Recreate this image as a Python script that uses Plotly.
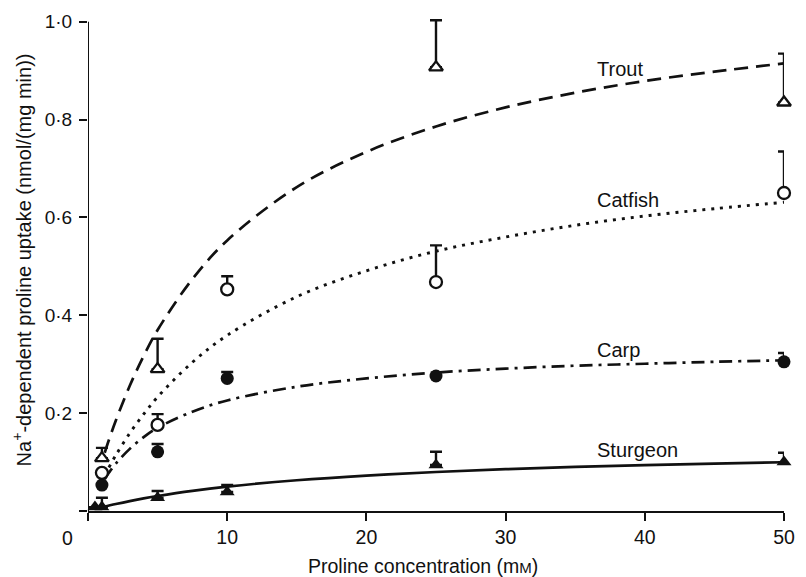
import plotly.graph_objects as go

# Measured uptake (mean) and upper error (s.e.m.) per species
trout_conc = [1, 5, 25, 50]
trout_uptake = [0.108, 0.29, 0.907, 0.835]
trout_err = [0.021, 0.062, 0.096, 0.100]

catfish_conc = [1, 5, 10, 25, 50]
catfish_uptake = [0.078, 0.176, 0.453, 0.468, 0.650]
catfish_err = [None, 0.022, 0.027, 0.075, 0.085]

carp_conc = [1, 5, 10, 25, 50]
carp_uptake = [0.053, 0.121, 0.271, 0.276, 0.305]
carp_err = [None, 0.016, 0.013, None, 0.018]

sturgeon_conc = [0.5, 1, 5, 10, 25, 50]
sturgeon_uptake = [0.008, 0.008, 0.027, 0.039, 0.094, 0.100]
sturgeon_err = [None, 0.019, 0.014, 0.014, 0.027, 0.019]

# Fitted saturation curves
fit_conc = [1.2, 1.5, 2, 3, 4, 5, 7.5, 10, 15, 20, 25, 30, 35, 40, 45, 50]
trout_fit = [0.119, 0.145, 0.185, 0.256, 0.317, 0.370, 0.474, 0.553, 0.662,
             0.734, 0.786, 0.825, 0.855, 0.879, 0.898, 0.915]
catfish_fit = [None, 0.089, 0.114, 0.159, 0.198, 0.233, 0.304, 0.359, 0.438,
               0.491, 0.531, 0.560, 0.584, 0.603, 0.618, 0.631]
carp_fit = [0.065, 0.078, 0.097, 0.127, 0.151, 0.170, 0.203, 0.226, 0.254,
            0.271, 0.283, 0.291, 0.297, 0.301, 0.305, 0.308]
sturgeon_fit_conc = [1, 2, 3, 4, 5, 7.5, 10, 15, 20, 25, 30, 35, 40, 45, 50]
sturgeon_fit = [0.0075, 0.0142, 0.0203, 0.0257, 0.0306, 0.0412, 0.0498, 0.0629,
                0.0725, 0.0797, 0.0854, 0.0900, 0.0938, 0.0970, 0.0997]

species_labels = ["Trout", "Catfish", "Carp", "Sturgeon"]
label_pos = [(36.45, 0.904), (36.45, 0.635), (36.45, 0.329), (36.45, 0.124)]

x_ticks = [0, 10, 20, 30, 40, 50]
x_ticktext = ["", "10", "20", "30", "40", "50"]
y_ticks = [0, 0.2, 0.4, 0.6, 0.8, 1.0]
y_ticktext = ["", "0·2", "0·4", "0·6", "0·8", "1·0"]
y_axis_top = 1.0

FONT = "Liberation Sans, Arial, sans-serif"
BLACK = "#111111"

fig = go.Figure()

# curves
fig.add_trace(go.Scatter(x=fit_conc, y=trout_fit, mode="lines", line_shape="spline",
                         line=dict(color=BLACK, width=2.7, dash="14px,8px"),
                         cliponaxis=False, hoverinfo="skip"))
fig.add_trace(go.Scatter(x=fit_conc, y=catfish_fit, mode="lines", line_shape="spline",
                         connectgaps=False,
                         line=dict(color=BLACK, width=2.9, dash="3px,6px"),
                         cliponaxis=False, hoverinfo="skip"))
fig.add_trace(go.Scatter(x=fit_conc, y=carp_fit, mode="lines", line_shape="spline",
                         line=dict(color=BLACK, width=2.7, dash="13px,6px,3px,6px"),
                         cliponaxis=False, hoverinfo="skip"))
fig.add_trace(go.Scatter(x=sturgeon_fit_conc, y=sturgeon_fit, mode="lines",
                         line_shape="spline",
                         line=dict(color=BLACK, width=2.7),
                         cliponaxis=False, hoverinfo="skip"))


def err(arr):
    return dict(type="data", symmetric=False, array=arr,
                arrayminus=[0 if v is not None else None for v in arr],
                color=BLACK, thickness=2.4, width=6)


# measured points
fig.add_trace(go.Scatter(x=sturgeon_conc, y=sturgeon_uptake, mode="markers",
                         error_y=err(sturgeon_err), cliponaxis=False,
                         marker=dict(symbol="triangle-up", size=13, color=BLACK)))
fig.add_trace(go.Scatter(x=carp_conc, y=carp_uptake, mode="markers",
                         error_y=err(carp_err), cliponaxis=False,
                         marker=dict(symbol="circle", size=13, color=BLACK)))
fig.add_trace(go.Scatter(x=catfish_conc, y=catfish_uptake, mode="markers",
                         error_y=err(catfish_err), cliponaxis=False,
                         marker=dict(symbol="circle", size=12, color="white",
                                     line=dict(color=BLACK, width=2.3))))
fig.add_trace(go.Scatter(x=trout_conc, y=trout_uptake, mode="markers",
                         error_y=err(trout_err), cliponaxis=False,
                         marker=dict(symbol="triangle-up", size=12, color="white",
                                     line=dict(color=BLACK, width=2.3))))

annotations = []
for name, (lx, ly) in zip(species_labels, label_pos):
    annotations.append(dict(x=lx, y=ly, xref="x", yref="y", text=name,
                            showarrow=False, xanchor="left", yanchor="middle",
                            font=dict(family=FONT, size=20, color=BLACK)))

# origin label, axis titles
annotations.append(dict(x=-0.0298, y=-0.054, xref="paper", yref="paper", text="0",
                        showarrow=False, xanchor="center", yanchor="middle",
                        font=dict(family=FONT, size=19.5, color=BLACK)))
annotations.append(dict(x=0.481, y=-0.11, xref="paper", yref="paper",
                        text="Proline concentration (m<span style='font-size:15px'>M</span>)",
                        showarrow=False, xanchor="center", yanchor="middle",
                        font=dict(family=FONT, size=19.5, color=BLACK)))
annotations.append(dict(x=-0.095, y=0.504, xref="paper", yref="paper",
                        text="Na<sup>+</sup>-dependent proline uptake (nmol/(mg min))",
                        textangle=-90, showarrow=False, xanchor="center", yanchor="middle",
                        font=dict(family=FONT, size=20, color=BLACK)))

axis_common = dict(showgrid=False, zeroline=False, ticks="outside", ticklen=8,
                   tickwidth=2, tickcolor=BLACK, fixedrange=True)

fig.update_layout(
    width=806, height=577,
    margin=dict(l=88, r=13, t=11, b=66),
    paper_bgcolor="white", plot_bgcolor="white",
    showlegend=False,
    xaxis=dict(range=[0, 50], tickvals=x_ticks, ticktext=x_ticktext,
               showline=True, linecolor=BLACK, linewidth=2,
               tickfont=dict(family=FONT, size=19.5, color=BLACK), **axis_common),
    # a little headroom above 1.0 so the top error cap stays visible
    yaxis=dict(range=[0, 1.02], tickvals=y_ticks, ticktext=y_ticktext,
               showline=False, ticklabelstandoff=3,
               tickfont=dict(family=FONT, size=19, color=BLACK), **axis_common),
    annotations=annotations,
    # vertical axis line stops at the 1.0 tick
    shapes=[dict(type="line", xref="x", yref="y", x0=0, x1=0, y0=0, y1=y_axis_top,
                 line=dict(color=BLACK, width=2), layer="above")],
)

fig.write_html("out.html")
